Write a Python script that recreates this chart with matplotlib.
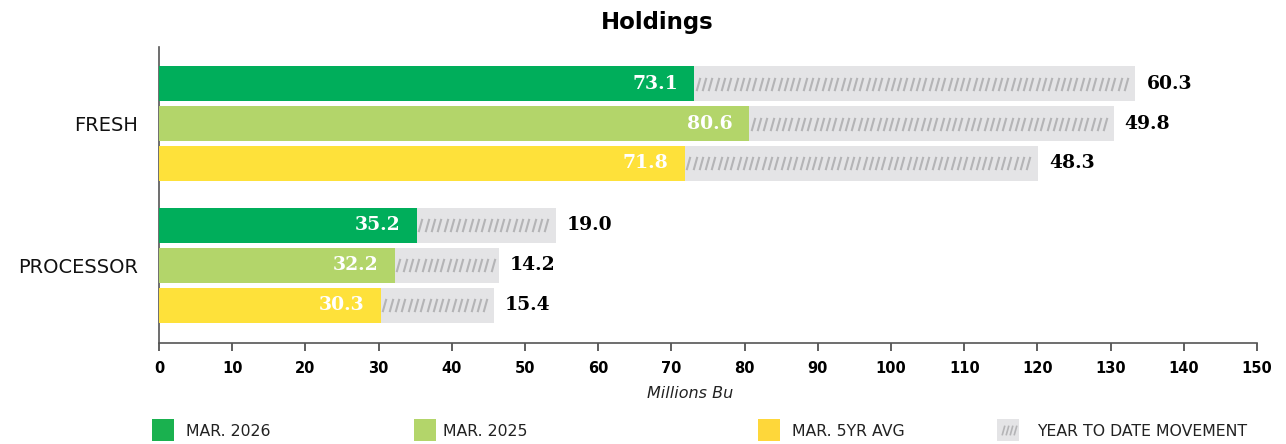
import numpy as np
import matplotlib.pyplot as plt
from matplotlib.patches import Rectangle

plt.rcParams['font.family'] = ['DejaVu Sans']

# data
categories = ["FRESH", "PROCESSOR"]
series = ["MAR. 2026", "MAR. 2025", "MAR. 5YR AVG"]
holdings = [[73.1, 80.6, 71.8],   # FRESH
            [35.2, 32.2, 30.3]]   # PROCESSOR
movement = [[60.3, 49.8, 48.3],
            [19.0, 14.2, 15.4]]
xticks = list(range(0, 151, 10))

colors = ["#00ae5b", "#b3d56a", "#fee13a"]
gray = "#e4e4e6"
hatch_col = "#b4b4b6"
serif = ["DejaVu Serif"]
slash = [(-0.28, -1), (0.28, 1)]

fig = plt.figure(figsize=(12.86, 4.44), dpi=100)
ax = fig.add_axes([159 / 1286, 1 - 343 / 444, 1098 / 1286, 296 / 444])

bar_h = 0.875
group_start = [0.0, 3.55]
for g, cat in enumerate(categories):
    for i in range(3):
        y = group_start[g] + i
        v = holdings[g][i]
        m = movement[g][i]
        ax.barh(y, v, height=bar_h, color=colors[i], lw=0, zorder=3)
        ax.barh(y, m, left=v, height=bar_h, color=gray, lw=0, zorder=2)
        # short slanted strokes on the movement bar
        xs = np.arange(v + 0.5, v + m - 0.8, 0.86)
        ax.plot(xs, np.full_like(xs, y), ls="none", marker=slash, ms=9.5,
                mec=hatch_col, mew=1.5, zorder=4)
        ax.text(v - 2.2, y, f"{v:.1f}", ha="right", va="center", color="white",
                fontsize=13.5, fontweight="bold", family=serif, zorder=5)
        ax.text(v + m + 1.5, y, f"{m:.1f}", ha="left", va="center", color="black",
                fontsize=13.5, fontweight="bold", family=serif, zorder=5)

ax.set_xlim(0, 150)
ax.set_ylim(6.5, -0.92)
ax.set_xticks(xticks)
ax.set_xticklabels([str(t) for t in xticks], fontweight="bold", fontsize=10.5)
ax.tick_params(axis="x", length=6, width=1.2, color="#444444", pad=7)
ax.set_yticks([g + 1 for g in group_start])
ax.set_yticklabels(categories, fontsize=14, color="#111111")
ax.tick_params(axis="y", length=0, pad=15)
for s in ["top", "right"]:
    ax.spines[s].set_visible(False)
for s in ["left", "bottom"]:
    ax.spines[s].set_color("#555555")
    ax.spines[s].set_linewidth(1.2)

fig.text(657 / 1286, 1 - 22 / 444, "Holdings", ha="center", va="center",
         fontsize=16.5, fontweight="bold")
fig.text(690 / 1286, 1 - 393 / 444, "Millions Bu", ha="center", va="center",
         fontsize=11.5, style="italic", color="#222222")

# legend
leg_items = [("MAR. 2026", "#1ab14f", False, 152, 186),
             ("MAR. 2025", colors[1], False, 414, 443),
             ("MAR. 5YR AVG", "#fed73a", False, 758, 792),
             ("YEAR TO DATE MOVEMENT", gray, True, 997, 1037)]
for label, col, hatched, px, tx in leg_items:
    w = 22
    fig.add_artist(Rectangle((px / 1286, 1 - 441 / 444), w / 1286, 22 / 444,
                             transform=fig.transFigure, facecolor=col, lw=0))
    if hatched:
        sx = [(px + 6 + 4 * k) / 1286 for k in range(4)]
        fig.add_artist(plt.Line2D(sx, [1 - 430 / 444] * 4, transform=fig.transFigure,
                                  ls="none", marker=slash, ms=7, mec=hatch_col, mew=1.2))
    fig.text(tx / 1286, 1 - 431 / 444, label, ha="left", va="center",
             fontsize=11.3, color="#222222")

fig.savefig("out.png", dpi=100)
